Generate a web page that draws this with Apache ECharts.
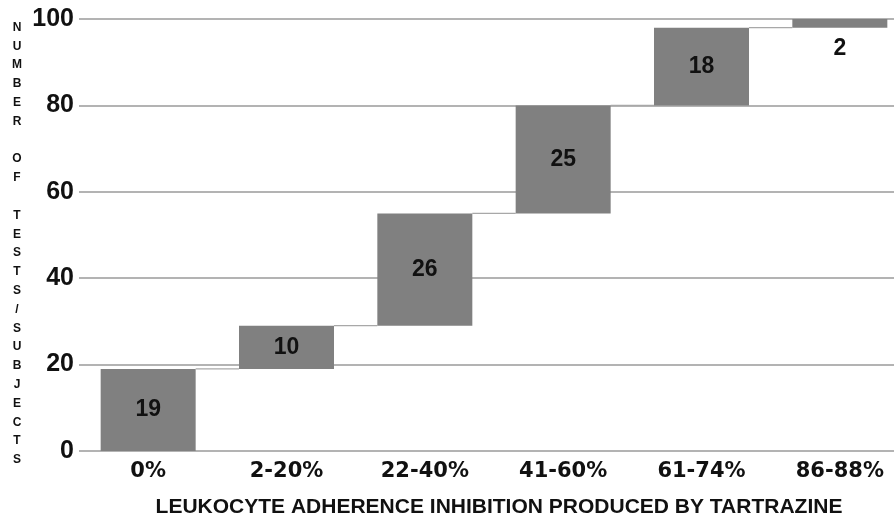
<!DOCTYPE html>
<html>
<head>
<meta charset="utf-8">
<script src="https://cdn.jsdelivr.net/npm/echarts@6/dist/echarts.min.js"></script>
<style>
  html, body { margin: 0; padding: 0; background: #fff; }
  #chart { width: 894px; height: 517px; }
</style>
</head>
<body>
<div id="chart"></div>
<script>
const categories = ['0%', '2-20%', '22-40%', '41-60%', '61-74%', '86-88%'];
const counts = [19, 10, 26, 25, 18, 2];
const yTicks = [0, 20, 40, 60, 80, 100];
const xTitle = 'LEUKOCYTE ADHERENCE INHIBITION PRODUCED BY TARTRAZINE';
const yTitle = 'NUMBER OF TESTS/SUBJECTS';

// cumulative bases for the waterfall
const bases = [];
let acc = 0;
for (let i = 0; i < counts.length; i++) { bases.push(acc); acc += counts[i]; }
const tops = counts.map((c, i) => bases[i] + c);

const FONT = '"Liberation Sans", Arial, sans-serif';
const WIDE = '"DejaVu Sans", Verdana, sans-serif';
const BAR_W = 95;

const chart = echarts.init(document.getElementById('chart'), null, { renderer: 'canvas' });

const connectorData = [];
for (let i = 0; i < counts.length - 1; i++) connectorData.push([i, tops[i]]);

chart.setOption({
  animation: false,
  backgroundColor: '#fff',
  grid: { left: 79, width: 830, top: 19, bottom: 66, containLabel: false, outerBoundsMode: 'none' },
  xAxis: {
    type: 'category',
    data: categories,
    axisLine: { show: false },
    axisTick: { show: false },
    axisLabel: { fontFamily: WIDE, fontWeight: 'bold', fontSize: 21, color: '#111', margin: 10 }
  },
  yAxis: {
    type: 'value',
    min: yTicks[0],
    max: yTicks[yTicks.length - 1],
    interval: 20,
    axisLine: { show: false },
    axisTick: { show: false },
    splitLine: { lineStyle: { color: '#9a9a9a', width: 1.6 } },
    axisLabel: { fontFamily: FONT, fontWeight: 'bold', fontSize: 25, color: '#111', margin: 5 }
  },
  graphic: [
    {
      type: 'text',
      x: 499,
      y: 507,
      style: {
        text: xTitle,
        font: 'bold 21px ' + FONT,
        fill: '#111',
        align: 'center',
        verticalAlign: 'middle'
      }
    },
    {
      type: 'text',
      x: 17,
      y: 18,
      style: {
        text: yTitle.split('').join('\n'),
        font: 'bold 12px ' + FONT,
        fill: '#111',
        align: 'center',
        verticalAlign: 'top',
        lineHeight: 18.8
      }
    }
  ],
  series: [
    {
      type: 'bar',
      stack: 'w',
      barWidth: BAR_W,
      itemStyle: { color: 'transparent' },
      silent: true,
      data: bases
    },
    {
      type: 'bar',
      stack: 'w',
      barWidth: BAR_W,
      itemStyle: { color: '#808080' },
      label: {
        show: true,
        position: 'inside',
        fontFamily: FONT,
        fontWeight: 'bold',
        fontSize: 23,
        color: '#111'
      },
      data: counts.map((c, i) => i === counts.length - 1
        ? { value: c, label: { position: 'bottom', distance: 10 } }
        : c)
    },
    {
      type: 'custom',
      silent: true,
      z: 1,
      renderItem: function (params, api) {
        const i = api.value(0);
        const v = api.value(1);
        const p1 = api.coord([i, v]);
        const p2 = api.coord([i + 1, v]);
        return {
          type: 'line',
          shape: { x1: p1[0] + BAR_W / 2, y1: p1[1], x2: p2[0] - BAR_W / 2, y2: p2[1] },
          style: { stroke: '#a8a8a8', lineWidth: 1.2 }
        };
      },
      data: connectorData
    }
  ]
});
</script>
</body>
</html>
